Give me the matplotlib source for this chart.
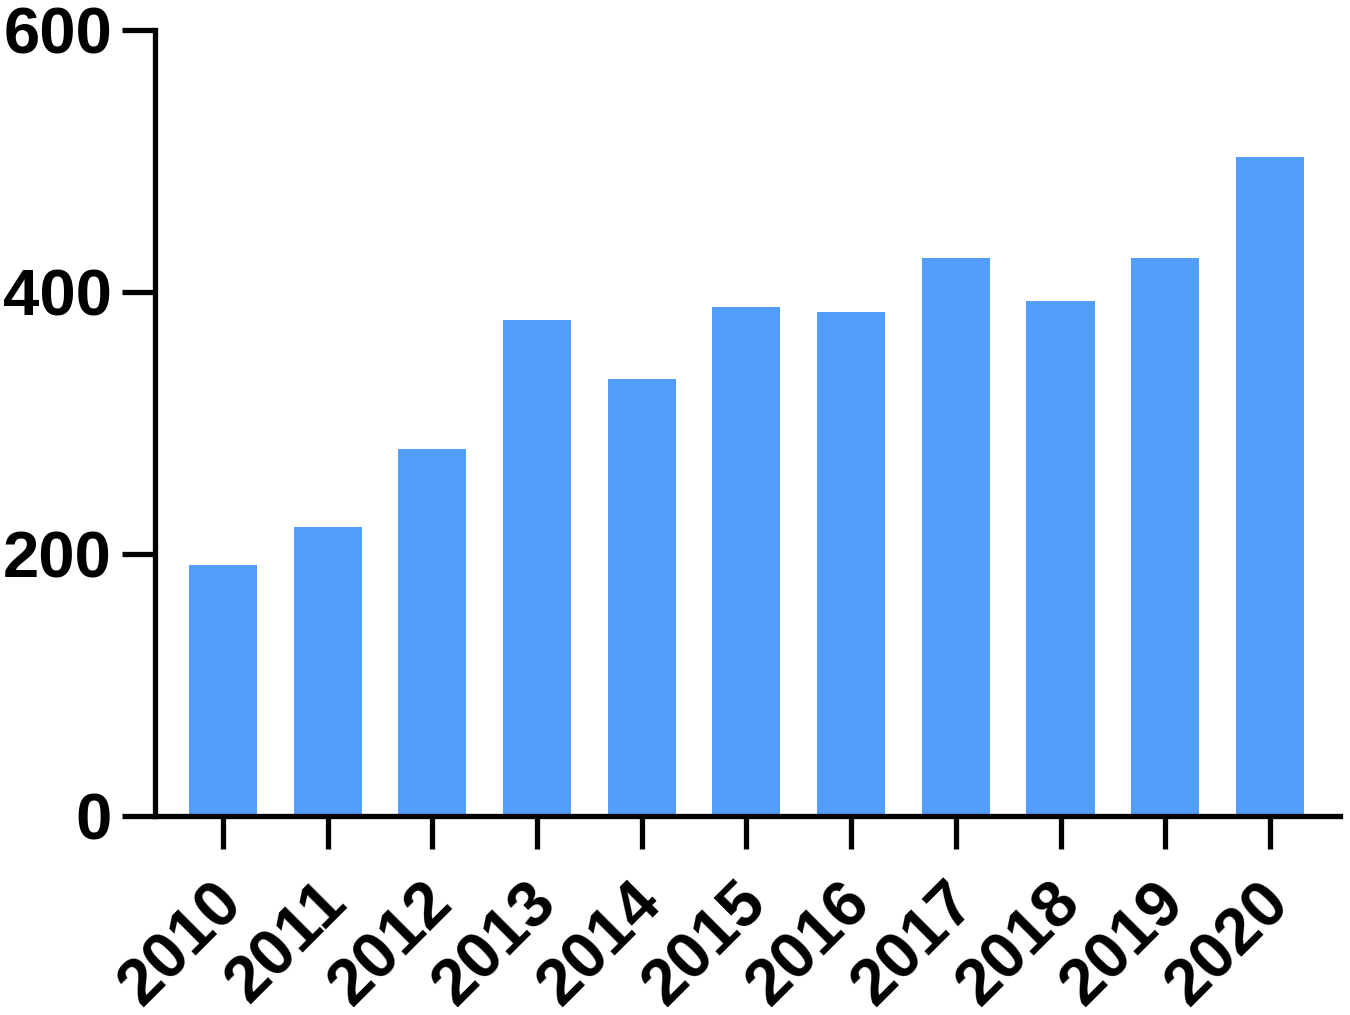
import matplotlib.pyplot as plt
import matplotlib.transforms as mtransforms
import numpy as np

plt.rcParams['font.family'] = ['Liberation Sans', 'DejaVu Sans']

years = ['2010', '2011', '2012', '2013', '2014', '2015',
         '2016', '2017', '2018', '2019', '2020']
counts = [192, 221, 280, 379, 334, 389, 385, 426, 393, 426, 503]

fig = plt.figure(figsize=(13.5, 10.15), dpi=100)
ax = fig.add_axes([0.1148, 0.196, 0.8778, 0.774])

x = np.arange(len(years))
ax.bar(x, counts, width=0.65, color='#539DFB', zorder=1)

ax.set_xlim(-0.65, len(years) - 1 + 0.67)
ax.set_ylim(0, 600)
ax.set_yticks([0, 200, 400, 600])
ax.set_xticks(x)
ax.set_xticklabels(years, rotation=45, ha='right', rotation_mode='anchor')

for s in ['top', 'right']:
    ax.spines[s].set_visible(False)
for s in ['left', 'bottom']:
    ax.spines[s].set_linewidth(3.8)
    ax.spines[s].set_zorder(3)

ax.tick_params(axis='both', length=24, width=3.8, labelsize=47)
ax.tick_params(axis='y', pad=7)
ax.tick_params(axis='x', pad=16)
for lbl in ax.get_xticklabels() + ax.get_yticklabels():
    lbl.set_fontweight('bold')

# nudge the rotated year labels left so they end just right of the tick
shift = mtransforms.ScaledTranslation(-11 / 100, 0, fig.dpi_scale_trans)
for lbl in ax.get_xticklabels():
    lbl.set_transform(lbl.get_transform() + shift)

fig.savefig('out.png', dpi=100)
